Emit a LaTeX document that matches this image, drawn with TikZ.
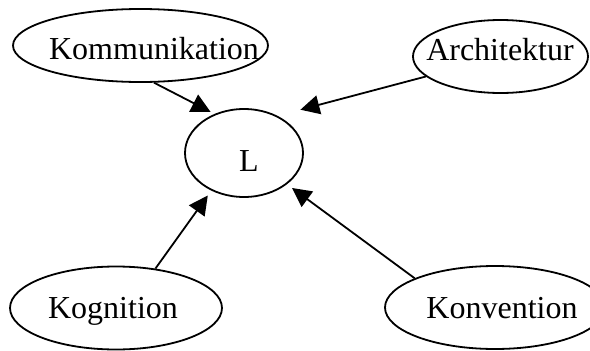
\documentclass[tikz,border=0pt]{standalone}
\usepackage{fontspec}
\setmainfont{Liberation Serif}
\usetikzlibrary{shapes.geometric,arrows.meta}
\begin{document}
\begin{tikzpicture}[x=1pt,y=-1pt,
  ell/.style={draw, ellipse, line width=1.8pt, inner sep=0pt},
  lbl/.style={anchor=base, inner sep=0pt, font=\fontsize{32}{38}\selectfont},
  edge/.style={line width=1.8pt, -{Triangle[length=19pt,width=19pt]}}]
\useasboundingbox (0,0) rectangle (590,351);
% ellipses
\node[ell, minimum width=255pt, minimum height=73pt] (kom) at (140.5,45.5) {};
\node[ell, minimum width=175pt, minimum height=73pt] (arc) at (500.5,56.5) {};
\node[ell, minimum width=118pt, minimum height=88pt] (L) at (244,153) {};
\node[ell, minimum width=212pt, minimum height=83pt] (kog) at (116,308) {};
\node[ell, minimum width=220pt, minimum height=83pt] (kon) at (495,307.5) {};
% labels
\node[lbl] (komt) at (154,59) {Kommunikation};
\node[lbl] (arct) at (500,60) {Architektur};
\node[lbl] (Lt) at (249,171) {L};
\node[lbl] (kogt) at (113,318) {Kognition};
\node[lbl] (kont) at (502,318) {Konvention};
% connectors
\draw[edge, shorten >=4.5pt] (kom.-70.7) -- (L.127.4);
\draw[edge, shorten >=23.7pt] (arc.-165.7) -- (L.48.6);
\draw[edge, shorten >=6pt] (kog.45) -- (L.-131);
\draw[edge, shorten >=6.3pt] (kon.160.2) -- (L.-36.4);
\end{tikzpicture}
\end{document}
